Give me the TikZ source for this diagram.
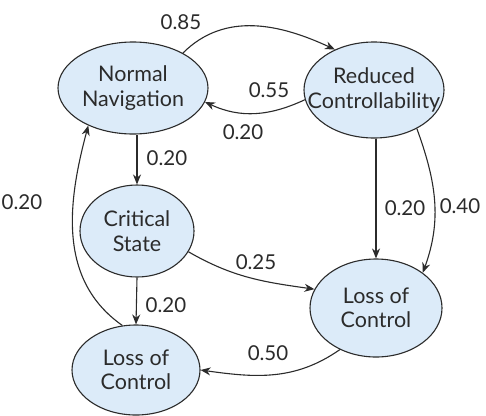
\documentclass[tikz,border=0pt]{standalone}
\usepackage{fontspec}
\setmainfont{Lato}
\usetikzlibrary{shapes.geometric,arrows.meta}
\definecolor{stfill}{HTML}{DCEBF9}
\definecolor{ink}{HTML}{2B2B2B}
\tikzset{
  state/.style={ellipse, draw=ink, line width=1.1pt, fill=stfill, inner sep=0pt},
  stxt/.style={align=center, text=ink, inner sep=0pt, font=\fontsize{21.5}{24.5}\selectfont},
  edge/.style={draw=ink, line width=1.1pt, -{Stealth[length=10pt,width=8pt]}},
  lbl/.style={text=ink, font=\fontsize{20.5}{22}\selectfont, inner sep=0pt}
}
\begin{document}
\begin{tikzpicture}[x=1pt,y=1pt]
\useasboundingbox (0,-415) rectangle (486,0);
\fill[white] (0,-415) rectangle (486,0);
\node[state, minimum width=150pt, minimum height=92pt] (nn) at (133,-88) {};
\node[state, minimum width=140pt, minimum height=96pt] (rc) at (374,-90) {};
\node[state, minimum width=114pt, minimum height=92pt] (cs) at (137,-231) {};
\node[state, minimum width=132pt, minimum height=98pt] (lr) at (376,-308) {};
\node[state, minimum width=128pt, minimum height=90pt] (lb) at (136,-370) {};
\node[stxt] (nnt) at (nn) {Normal\\Navigation};
\node[stxt] (rct) at (rc) {Reduced\\Controllability};
\node[stxt] (cst) at (cs) {Critical\\State};
\node[stxt] (lrt) at (lr) {Loss of\\Control};
\node[stxt] (lbt) at (lb) {Loss of\\Control};

\draw[edge] (nn.35) to[out=45,in=155] (rc.134);
\draw[edge] (rc.188) to[out=205,in=-25] (nn.-11);
\draw[edge] (cs.north |- nn.south) -- (cs.north);
\draw[edge] (cs.south) -- (lb.north);
\draw[edge] (lb.107) to[out=145,in=255] (nn.220);
\draw[edge] (cs.-22) to[out=-30,in=172] (lr.163);
\draw[edge] (lr.north |- rc.south) -- (lr.north);
\draw[edge] (rc.-42) to[out=-70,in=70] (lr.37);
\draw[edge] (lr.229) to[out=215,in=-8] (lb.0);

\node[lbl] (l1) at (181,-22) {0.85};
\node[lbl] (l2) at (269,-90) {0.55};
\node[lbl] (l3) at (243,-132) {0.20};
\node[lbl] (l4) at (167,-158) {0.20};
\node[lbl] (l5) at (22,-202) {0.20};
\node[lbl] (l6) at (166,-305) {0.20};
\node[lbl] (l7) at (256,-262) {0.25};
\node[lbl] (l8) at (405,-208) {0.20};
\node[lbl] (l9) at (460,-206) {0.40};
\node[lbl] (l10) at (268,-353) {0.50};
\end{tikzpicture}
\end{document}
